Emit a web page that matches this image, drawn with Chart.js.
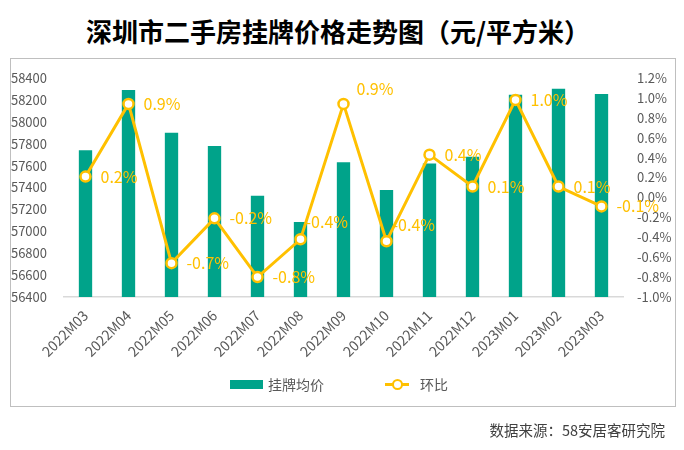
<!DOCTYPE html>
<html lang="zh">
<head>
    <meta charset="UTF-8">
    <title>深圳市二手房挂牌价格走势图</title>
    <script src="https://cdn.jsdelivr.net/npm/chart.js"></script>
    <style>
        * {
            margin: 0;
            padding: 0;
            box-sizing: border-box;
        }

        body {
            width: 684px;
            height: 450px;
            background: #fff;
            position: relative;
            overflow: hidden;
            font-family: "Noto Sans CJK SC", "Noto Sans", sans-serif;
        }

        .title {
            position: absolute;
            left: 0;
            width: 676px;
            top: 13px;
            text-align: center;
            font-size: 26px;
            font-weight: bold;
            line-height: 36px;
            color: #000;
        }

        .frame {
            position: absolute;
            left: 10px;
            top: 58px;
            width: 666px;
            height: 349px;
            border: 1px solid #bfbfbf;
        }

        #chart {
            position: absolute;
            left: 0;
            top: 0;
        }

        .legend-item {
            position: absolute;
            font-size: 14px;
            color: #595959;
            line-height: 20px;
            top: 374px;
        }

        .swatch-bar {
            position: absolute;
            left: 230px;
            top: 380px;
            width: 33px;
            height: 9px;
            background: #00a38a;
        }

        .swatch-line {
            position: absolute;
            left: 385px;
            top: 383px;
            width: 24px;
            height: 3px;
            background: #ffc000;
        }

        .swatch-dot {
            position: absolute;
            left: 392px;
            top: 379px;
            width: 11px;
            height: 11px;
            border-radius: 50%;
            border: 2.5px solid #ffc000;
            background: #fff;
        }

        .source {
            position: absolute;
            right: 19px;
            top: 420px;
            font-size: 14.5px;
            color: #404040;
            line-height: 20px;
        }
    </style>
</head>
<body>

<div class="title">深圳市二手房挂牌价格走势图（元/平方米）</div>
<div class="frame"></div>
<canvas id="chart" width="684" height="450"></canvas>

<div class="swatch-bar"></div>
<div class="legend-item" style="left:268px;">挂牌均价</div>
<div class="swatch-line"></div>
<div class="swatch-dot"></div>
<div class="legend-item" style="left:420px;">环比</div>

<div class="source">数据来源：58安居客研究院</div>

<script>
    const months = ['2022M03', '2022M04', '2022M05', '2022M06', '2022M07', '2022M08', '2022M09',
                    '2022M10', '2022M11', '2022M12', '2023M01', '2023M02', '2023M03'];
    // 挂牌均价 (元/平方米)
    const prices = [57740, 58290, 57900, 57780, 57325, 57085, 57630, 57377, 57620, 57680, 58248, 58302, 58254];
    // 环比 (%)
    const mom = [0.21, 0.94, -0.66, -0.21, -0.80, -0.42, 0.94, -0.44, 0.43, 0.11, 0.98, 0.11, -0.09];

    const green = '#00a38a';
    const yellow = '#ffc000';
    const tickColor = '#595959';

    // label nudges for the few points whose label sits above the marker
    const labelShift = { 5: [5, -17], 6: [13, -15], 7: [6, -16] };

    function pct(v) {
        let r = Math.round(v * 10) / 10;
        if (Math.abs(r) < 1e-9) r = 0;
        return r.toFixed(1) + '%';
    }

    const pointLabels = {
        id: 'pointLabels',
        afterDatasetsDraw(chart) {
            const ctx = chart.ctx;
            const meta = chart.getDatasetMeta(1);
            ctx.save();
            ctx.font = '16px "Noto Sans CJK SC", "Noto Sans", sans-serif';
            ctx.fillStyle = yellow;
            ctx.textAlign = 'left';
            ctx.textBaseline = 'middle';
            meta.data.forEach((pt, i) => {
                const s = labelShift[i] || [15, 0];
                ctx.fillText(pct(mom[i]), pt.x + s[0], pt.y + s[1]);
            });
            ctx.restore();
        }
    };

    const fontFamily = '"Noto Sans CJK SC", "Noto Sans", sans-serif';
    const xFont = { family: fontFamily, size: 14 };
    const yFont = { family: fontFamily, size: 13 };

    new Chart(document.getElementById('chart'), {
        data: {
            labels: months,
            datasets: [
                {
                    type: 'bar',
                    label: '挂牌均价',
                    data: prices,
                    backgroundColor: green,
                    yAxisID: 'y',
                    barPercentage: 0.31,
                    categoryPercentage: 1,
                    order: 2
                },
                {
                    type: 'line',
                    label: '环比',
                    data: mom,
                    borderColor: yellow,
                    borderWidth: 3,
                    pointRadius: 5,
                    pointBorderWidth: 2.5,
                    pointBackgroundColor: '#fff',
                    pointBorderColor: yellow,
                    tension: 0,
                    yAxisID: 'y1',
                    order: 1
                }
            ]
        },
        options: {
            responsive: false,
            animation: false,
            layout: { padding: { top: 78, left: 0, right: 0, bottom: 0 } },
            plugins: {
                legend: { display: false },
                tooltip: { enabled: false }
            },
            scales: {
                x: {
                    grid: { display: false },
                    border: { color: '#d9d9d9', width: 1.5 },
                    ticks: {
                        color: tickColor,
                        font: xFont,
                        minRotation: 45,
                        maxRotation: 45,
                        padding: 2
                    },
                    afterFit(scale) { scale.height = 153; }
                },
                y: {
                    position: 'left',
                    min: 56400,
                    max: 58400,
                    grid: { display: false },
                    border: { display: false },
                    ticks: {
                        stepSize: 200,
                        color: tickColor,
                        font: yFont,
                        padding: 9,
                        callback: (v) => String(v)
                    },
                    afterFit(scale) { scale.width = 64; }
                },
                y1: {
                    position: 'right',
                    min: -1.0,
                    max: 1.2,
                    grid: { display: false },
                    border: { display: false },
                    ticks: {
                        stepSize: 0.2,
                        color: tickColor,
                        font: yFont,
                        padding: 6,
                        callback: (v) => pct(v)
                    },
                    afterFit(scale) { scale.width = 61; }
                }
            }
        },
        plugins: [pointLabels]
    });
</script>

</body>
</html>
